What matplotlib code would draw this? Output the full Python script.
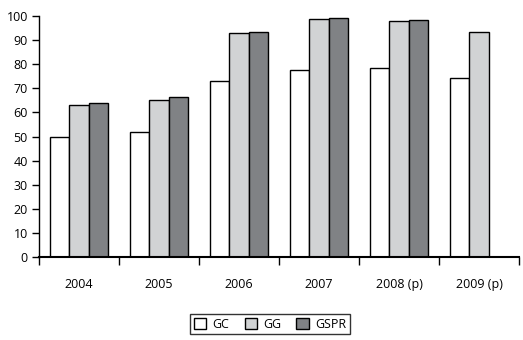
import numpy as np
import matplotlib
matplotlib.use("Agg")
import matplotlib.pyplot as plt

plt.rcParams['font.family'] = ['Open Sans', 'DejaVu Sans']

years = ['2004', '2005', '2006', '2007', '2008 (p)', '2009 (p)']
gc = [50.0, 51.7, 72.9, 77.5, 78.3, 74.1]
gg = [62.9, 65.0, 92.8, 98.6, 97.8, 93.2]
gspr = [63.8, 66.3, 93.2, 99.0, 98.2, None]

series = [('GC', gc, 'white'), ('GG', gg, '#d1d3d4'), ('GSPR', gspr, '#808285')]

fig = plt.figure(figsize=(5.23, 3.40), dpi=100)
ax = fig.add_axes([39 / 523, 1 - 257 / 340, 480 / 523, 241 / 340])

x = np.arange(len(years))
w = 0.24
handles = []
for k, (name, vals, col) in enumerate(series):
    xs = [xi + (k - 1) * w for xi, v in zip(x, vals) if v is not None]
    vs = [v for v in vals if v is not None]
    b = ax.bar(xs, vs, width=w, color=col, edgecolor='black', linewidth=1.0, label=name)
    handles.append(b)

ax.set_xlim(-0.5, len(years) - 0.5)
ax.set_ylim(0, 100)
ax.set_yticks(range(0, 101, 10))
ax.set_xticks(x)
ax.set_xticklabels(years)
ax.set_xticks(np.arange(-0.5, len(years), 1), minor=True)
ax.tick_params(axis='x', which='major', length=0, pad=15, labelsize=9)
ax.tick_params(axis='x', which='minor', length=6, width=1, direction='out')
ax.tick_params(axis='y', length=5, width=1, labelsize=9, pad=3)
for s in ['top', 'right']:
    ax.spines[s].set_visible(False)
ax.spines['left'].set_linewidth(1)
ax.spines['bottom'].set_linewidth(1.5)

leg = fig.legend(handles=handles, loc='center', bbox_to_anchor=(270 / 523, 1 - 324 / 340),
                 ncol=3, fontsize=9, frameon=True, fancybox=False, edgecolor='black',
                 handlelength=1.0, handleheight=1.0, columnspacing=1.2, handletextpad=0.5,
                 borderpad=0.3)
leg.get_frame().set_linewidth(1)

fig.savefig('out.png', dpi=100)
